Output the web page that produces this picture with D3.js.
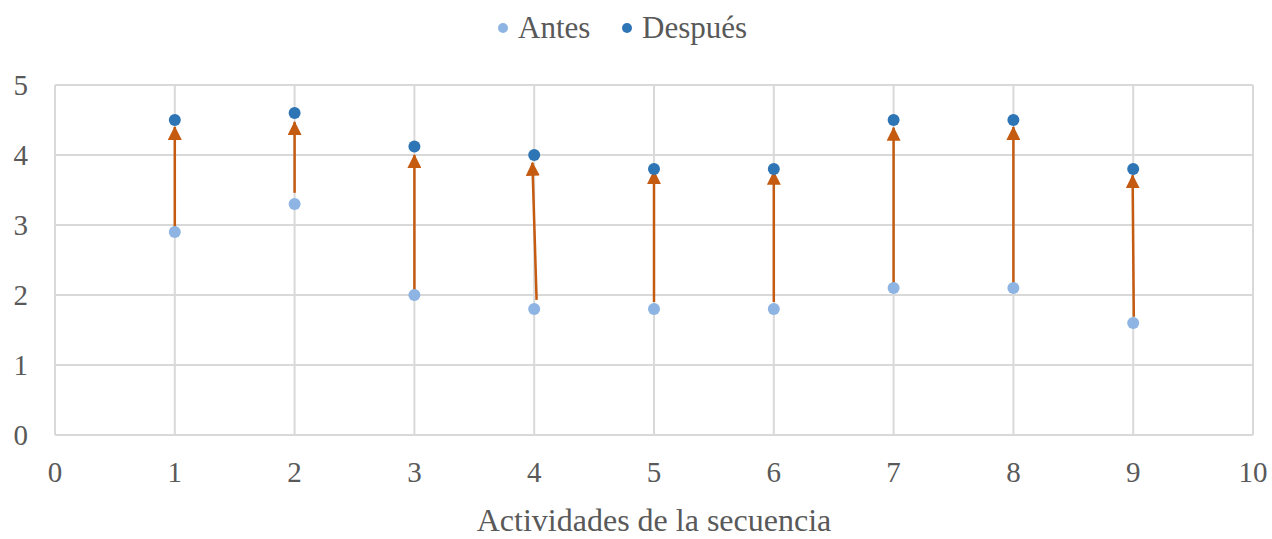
<!DOCTYPE html>
<html lang="es">
<head>
<meta charset="UTF-8">
<title>Antes / Después</title>
<script src="https://cdnjs.cloudflare.com/ajax/libs/d3/7.8.5/d3.min.js"></script>
<style>
  body { margin: 0; background: #fff; }
  text { font-family: "Liberation Serif", "Times New Roman", serif; fill: #595959; }
</style>
</head>
<body>
<div id="chart"></div>
<script>
// datos
const actividades = [1, 2, 3, 4, 5, 6, 7, 8, 9]
const antes = [2.9, 3.3, 2.0, 1.8, 1.8, 1.8, 2.1, 2.1, 1.6]
const despues = [4.5, 4.6, 4.12, 4.0, 3.8, 3.8, 4.5, 4.5, 3.8]
// flechas dibujadas a mano: inicio y punta
const flechaDesde = [2.93, 3.46, 2.03, 1.93, 1.9, 1.9, 2.17, 2.17, 1.69]
const flechaHasta = [4.4, 4.47, 4.0, 3.89, 3.77, 3.76, 4.39, 4.4, 3.71]
const flechaXDesde = [1, 2, 3, 4.02, 5, 6, 7, 8, 9.005]
const flechaXHasta = [1, 2, 3, 3.985, 5, 6, 7, 8, 8.995]
const xTicks = d3.range(0, 11)
const yTicks = d3.range(0, 6)
const series = ['Antes', 'Después']

const width = 1272, height = 539
const colores = { Antes: '#8db4e2', 'Después': '#2e75b6' }
const naranja = '#c55a11'

const svg = d3.select('#chart').append('svg')
  .attr('width', width).attr('height', height)

const x = d3.scaleLinear().domain([0, 10]).range([55, 1253])
const y = d3.scaleLinear().domain([0, 5]).range([435, 85])

// cuadrícula
svg.append('g').selectAll('line').data(yTicks).join('line')
  .attr('x1', x(0)).attr('x2', x(10))
  .attr('y1', d => y(d)).attr('y2', d => y(d))
  .attr('stroke', '#d9d9d9').attr('stroke-width', 2)
svg.append('g').selectAll('line').data(xTicks).join('line')
  .attr('x1', d => x(d)).attr('x2', d => x(d))
  .attr('y1', y(0)).attr('y2', y(5))
  .attr('stroke', '#d9d9d9').attr('stroke-width', 2)

// etiquetas de ejes
svg.append('g').selectAll('text').data(yTicks).join('text')
  .attr('x', 28).attr('y', d => y(d) + 10)
  .attr('text-anchor', 'end').attr('font-size', 29)
  .text(d => d)
svg.append('g').selectAll('text').data(xTicks).join('text')
  .attr('x', d => x(d)).attr('y', 482)
  .attr('text-anchor', 'middle').attr('font-size', 29)
  .text(d => d)

svg.append('text')
  .attr('x', (x(0) + x(10)) / 2).attr('y', 531)
  .attr('text-anchor', 'middle').attr('font-size', 32)
  .text('Actividades de la secuencia')

// flechas
svg.append('defs').append('marker')
  .attr('id', 'punta')
  .attr('markerUnits', 'userSpaceOnUse')
  .attr('markerWidth', 14).attr('markerHeight', 14)
  .attr('refX', 13).attr('refY', 7)
  .attr('orient', 'auto')
  .append('path')
  .attr('d', 'M0,0 L14,7 L0,14 Z')
  .attr('fill', naranja)

svg.append('g').selectAll('line').data(actividades).join('line')
  .attr('x1', (d, i) => x(flechaXDesde[i]))
  .attr('y1', (d, i) => y(flechaDesde[i]))
  .attr('x2', (d, i) => x(flechaXHasta[i]))
  .attr('y2', (d, i) => y(flechaHasta[i]))
  .attr('stroke', naranja).attr('stroke-width', 2.5)
  .attr('marker-end', 'url(#punta)')

// puntos
svg.append('g').selectAll('circle').data(actividades).join('circle')
  .attr('cx', d => x(d)).attr('cy', (d, i) => y(antes[i]))
  .attr('r', 6).attr('fill', colores.Antes)
svg.append('g').selectAll('circle').data(actividades).join('circle')
  .attr('cx', d => x(d)).attr('cy', (d, i) => y(despues[i]))
  .attr('r', 6).attr('fill', colores['Después'])

// leyenda
const leyendaX = [503, 627]
const leyenda = svg.append('g')
series.forEach((s, i) => {
  leyenda.append('circle')
    .attr('cx', leyendaX[i]).attr('cy', 28).attr('r', 5)
    .attr('fill', colores[s])
  leyenda.append('text')
    .attr('x', leyendaX[i] + 15).attr('y', 38)
    .attr('font-size', 31)
    .text(s)
})
</script>
</body>
</html>
